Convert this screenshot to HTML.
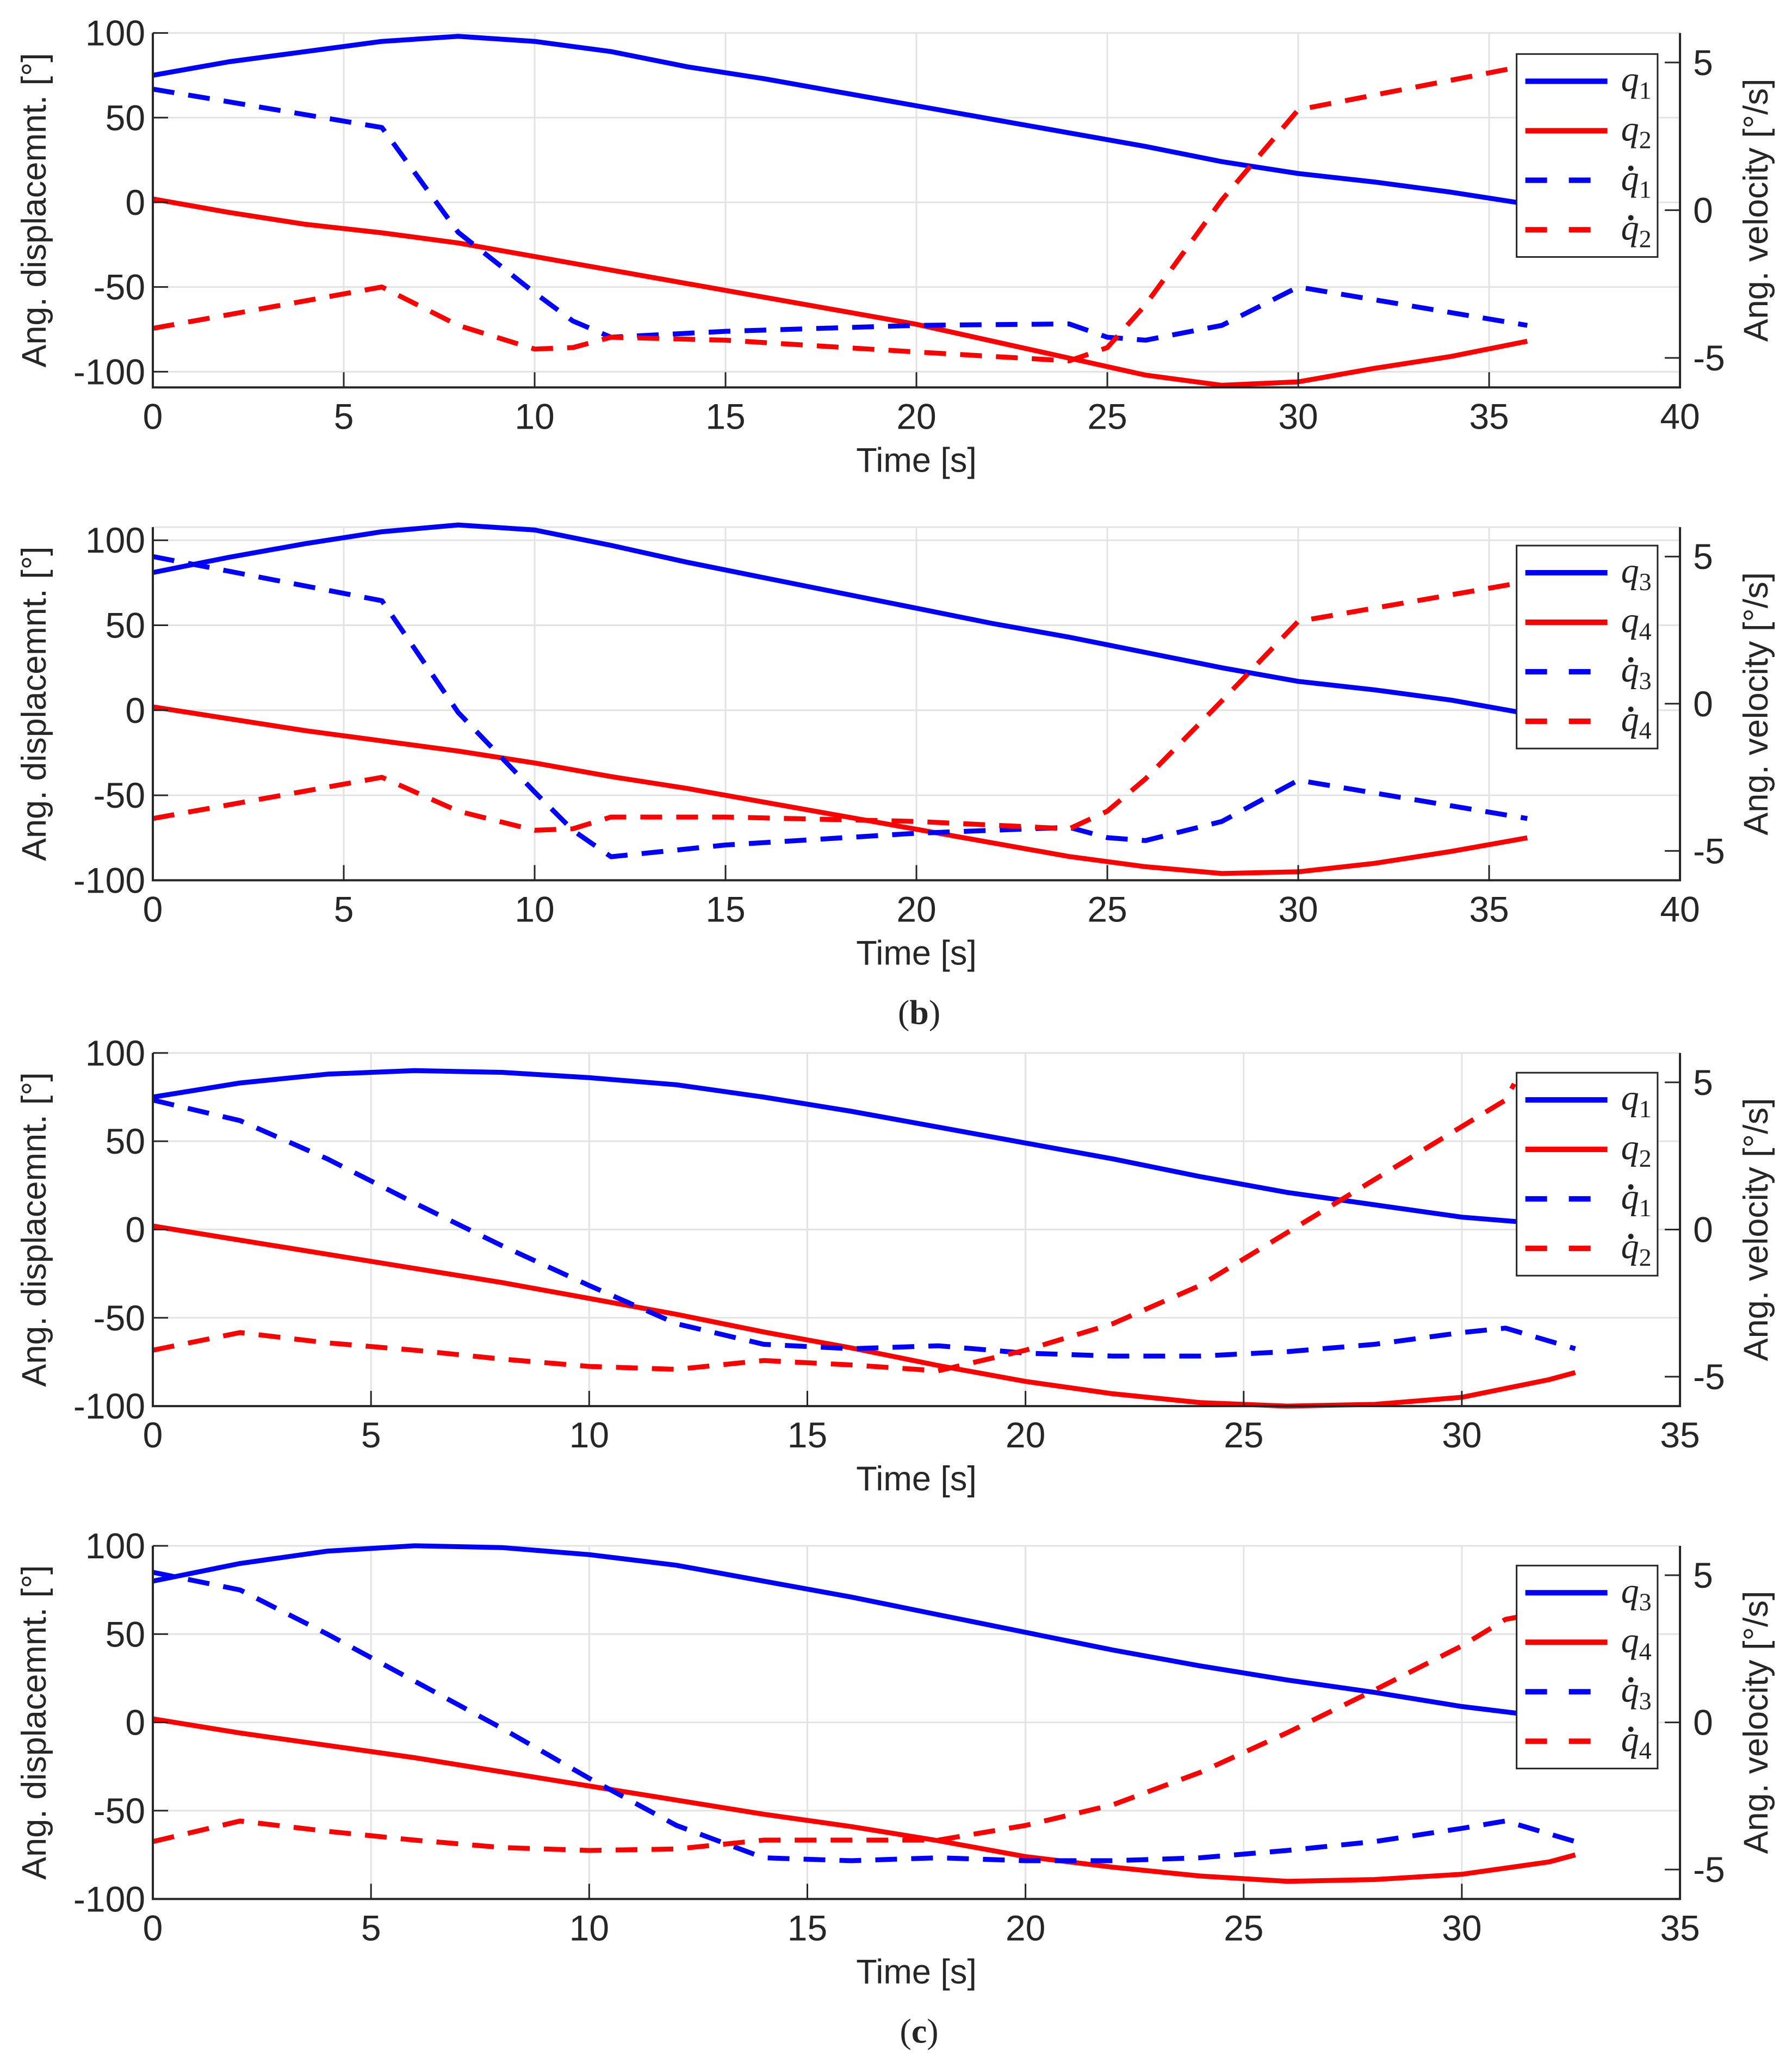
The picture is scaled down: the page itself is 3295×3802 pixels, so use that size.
<!DOCTYPE html>
<html><head><meta charset="utf-8"><style>
html,body{margin:0;padding:0;background:#fff;}
svg{display:block;}
text{font-family:"Liberation Sans",sans-serif;fill:#262626;}
.leg{font-family:"Liberation Serif",serif;font-style:italic;fill:#222;}
</style></head><body>
<svg id="chart" width="3295" height="3802" viewBox="0 0 3295 3802" xmlns="http://www.w3.org/2000/svg"></svg>
<script>
const K = 2.4228;
// ---- data ----
const tA = [0,2,4,6,8,10,12,14,16,18,20,22,24,26,28,30,32,34,36];
const q1A = [75,83,89,95,98,95,89,80,73,65,57,49,41,33,24,17,12,6,-1];
const q2A = [2,-6,-13,-18,-24,-32,-40,-48,-56,-64,-72,-82,-92,-102,-108,-106,-98,-91,-82];
const tdA = [0,6,8,10,11,12,15,20,24,25,26,28,30,36];
const qd1A = [4.1,2.8,-0.75,-2.8,-3.75,-4.3,-4.1,-3.9,-3.85,-4.3,-4.4,-3.9,-2.6,-3.9];
const qd2A = [-4.0,-2.6,-3.9,-4.7,-4.65,-4.3,-4.4,-4.8,-5.1,-4.65,-3.2,0.35,3.4,4.9];

const q3B = [81,90,98,105,109,106,97,87,78,69,60,51,43,34,25,17,12,6,-2];
const q4B = [2,-5,-12,-18,-24,-31,-39,-46,-54,-62,-70,-78,-86,-92,-96,-95,-90,-83,-75];
const qd3B = [5.0,3.5,-0.3,-3.0,-4.3,-5.2,-4.8,-4.4,-4.2,-4.55,-4.65,-4.0,-2.6,-3.9];
const qd4B = [-3.9,-2.5,-3.65,-4.3,-4.25,-3.85,-3.85,-4.0,-4.25,-3.65,-2.55,0.1,2.8,4.15];

const tC = [0,2,4,6,8,10,12,14,16,18,20,22,24,26,28,30,32,32.6];
const q1C = [75,83,88,90,89,86,82,75,67,58,49,40,30,21,14,7,3,2];
const q2C = [2,-6,-14,-22,-30,-39,-48,-58,-67,-77,-86,-93,-98,-100,-99,-95,-85,-81];
const tdC = [0,2,4,6,8,10,12,14,16,18,20,22,24,26,28,30,31,32.6];
const qd1C = [4.4,3.7,2.4,0.9,-0.55,-1.9,-3.2,-3.9,-4.05,-3.95,-4.2,-4.3,-4.3,-4.15,-3.9,-3.5,-3.35,-4.05];
const tdC2 = [0,2,4,6,8,10,12,14,16,18,20,22,24,26,28,30,31,31.2];
const qd2C = [-4.1,-3.5,-3.85,-4.1,-4.4,-4.65,-4.75,-4.45,-4.6,-4.8,-4.1,-3.2,-1.9,-0.1,1.7,3.5,4.4,4.95];

const q3D = [80,90,97,100,99,95,89,80,71,61,51,41,32,24,17,9,3,2];
const q4D = [2,-6,-13,-20,-28,-36,-44,-52,-59,-67,-76,-82,-87,-90,-89,-86,-79,-75];
const qd3D = [5.1,4.5,3.0,1.4,-0.2,-1.9,-3.5,-4.6,-4.7,-4.6,-4.7,-4.7,-4.6,-4.35,-4.05,-3.6,-3.35,-4.05];
const qd4D = [-4.05,-3.35,-3.7,-4.0,-4.25,-4.35,-4.3,-4.0,-4.0,-4.0,-3.5,-2.8,-1.7,-0.35,1.1,2.6,3.5,3.95];

const xTicks40 = [0,5,10,15,20,25,30,35,40];
const xTicks35 = [0,5,10,15,20,25,30,35];
const yTicksL = [-100,-50,0,50,100];
const yTicksR = [-5,0,5];

const panels = [
  {name:'a-top', top:25, bot:294, xmax:40, ymin:-109.3, ymax:100, xt:xTicks40, subs:['1','2','1','2'],
   s:[[tA,q1A,'L','#0000ff',0],[tA,q2A,'L','#ff0000',0],[tdA,qd1A,'R','#0000ff',1],[tdA,qd2A,'R','#ff0000',1]], leg:41, cap:null},
  {name:'b', top:400, bot:668, xmax:40, ymin:-100, ymax:107.7, xt:xTicks40, subs:['3','4','3','4'],
   s:[[tA,q3B,'L','#0000ff',0],[tA,q4B,'L','#ff0000',0],[tdA,qd3B,'R','#0000ff',1],[tdA,qd4B,'R','#ff0000',1]], leg:414, cap:'b', capY:768},
  {name:'c-top', top:799, bot:1067, xmax:35, ymin:-100, ymax:100, xt:xTicks35, subs:['1','2','1','2'],
   s:[[tC,q1C,'L','#0000ff',0],[tC,q2C,'L','#ff0000',0],[tdC,qd1C,'R','#0000ff',1],[tdC2,qd2C,'R','#ff0000',1]], leg:814, cap:null},
  {name:'c-bottom', top:1173, bot:1441, xmax:35, ymin:-100, ymax:100, xt:xTicks35, subs:['3','4','3','4'],
   s:[[tC,q3D,'L','#0000ff',0],[tC,q4D,'L','#ff0000',0],[tdC,qd3D,'R','#0000ff',1],[tdC,qd4D,'R','#ff0000',1]], leg:1188, cap:'c', capY:1541}
];
const NS='http://www.w3.org/2000/svg';
const svg=document.getElementById('chart');
function mk(tag,attrs,parent){const e=document.createElementNS(NS,tag);for(const k in attrs)e.setAttribute(k,attrs[k]);(parent||svg).appendChild(e);return e;}
const L=116*K, R=1275*K;
const FS=66;
panels.forEach((p,pi)=>{
  const g=mk('g',{});
  
  
  const T=p.top*K, B=p.bot*K;
  const xs=v=>L+(v/p.xmax)*(R-L);
  const ysL=v=>B-(v-p.ymin)/(p.ymax-p.ymin)*(B-T);
  const ysR=v=>B-(v+6)/12*(B-T);
  p.xt.forEach(t=>{const l=mk('line',{x1:xs(t),x2:xs(t),y1:T,y2:B,stroke:'#e3e3e3','stroke-width':3},g);
    });
  yTicksL.forEach(t=>{const l=mk('line',{x1:L,x2:R,y1:ysL(t),y2:ysL(t),stroke:'#e3e3e3','stroke-width':3},g);
    });
  mk('line',{x1:L,x2:R,y1:T,y2:T,stroke:'#e3e3e3','stroke-width':3},g);
  p.s.forEach((s,si)=>{
    const [tx,vy,ax,col,dash]=s;
    const f=ax==='L'?ysL:ysR;
    const d=tx.map((t,i)=>(i?'L':'M')+xs(t).toFixed(1)+' '+f(vy[i]).toFixed(1)).join(' ');
    const a={d:d,fill:'none',stroke:col,'stroke-width':9,'stroke-linejoin':'round'};
    if(dash)a['stroke-dasharray']='40 26';
    const pa=mk('path',a,g);
    
    
  });
  const ax=mk('path',{d:`M${L} ${T} L${L} ${B} L${R} ${B} L${R} ${T}`,fill:'none',stroke:'#262626','stroke-width':4},g);
  
  p.xt.forEach(t=>{
    mk('line',{x1:xs(t),x2:xs(t),y1:B,y2:B-28,stroke:'#262626','stroke-width':3},g);
    const tx=mk('text',{x:xs(t),y:B+76,'font-size':FS,'text-anchor':'middle'},g);tx.textContent=t;
    
  });
  yTicksL.forEach(t=>{
    mk('line',{x1:L,x2:L+28,y1:ysL(t),y2:ysL(t),stroke:'#262626','stroke-width':3},g);
    const tx=mk('text',{x:L-14,y:ysL(t)+23,'font-size':FS,'text-anchor':'end'},g);tx.textContent=t;
    
  });
  yTicksR.forEach(t=>{
    mk('line',{x1:R,x2:R-28,y1:ysR(t),y2:ysR(t),stroke:'#262626','stroke-width':3},g);
    const tx=mk('text',{x:R+24,y:ysR(t)+23,'font-size':FS,'text-anchor':'start'},g);tx.textContent=t;
    
  });
  const xl=mk('text',{x:(L+R)/2,y:B+155,'font-size':63,'text-anchor':'middle'},g);xl.textContent='Time [s]';
  
  const cy=(T+B)/2;
  const yl=mk('text',{x:0,y:0,'font-size':63,'text-anchor':'middle','xml:space':'preserve',transform:`translate(84 ${cy}) rotate(-90)`},g);yl.textContent='Ang.   displacemnt.   [°]';
  
  const yr=mk('text',{x:0,y:0,'font-size':63,'text-anchor':'middle','xml:space':'preserve',transform:`translate(3250 ${cy}) rotate(-90)`},g);yr.textContent='Ang.   velocity   [°/s]';
  
  const lx=1151*K, ly=p.leg*K, lw=107*K, lh=154*K;
  const lg=mk('g',{},g);
  
  mk('rect',{x:lx,y:ly,width:lw,height:lh,fill:'#fff',stroke:'#262626','stroke-width':3},lg);
  const cols=['#0000ff','#ff0000','#0000ff','#ff0000'];
  for(let i=0;i<4;i++){
    const yy=ly+50+i*91;
    const a={x1:lx+16,x2:lx+167,y1:yy,y2:yy,stroke:cols[i],'stroke-width':10};
    if(i>=2)a['stroke-dasharray']='40 40';
    const ln=mk('line',a,lg);
    
    const tx=mk('text',{x:lx+192,y:yy+18,'font-size':66,class:'leg'},lg);
    tx.textContent='q';
    const sb=mk('tspan',{'font-size':46,'font-style':'normal',dy:14},tx);sb.textContent=p.subs[i];
    
    if(i>=2){mk('circle',{cx:lx+210,cy:yy-22,r:5,fill:'#222'},lg);}
  }
  if(p.cap){
    const c=mk('text',{x:(L+R)/2+5,y:p.capY*K+22,'font-size':64,'text-anchor':'middle',style:'font-family:"Liberation Serif",serif'},g);
    c.textContent='(';
    const b=mk('tspan',{'font-weight':'bold'},c);b.textContent=p.cap;
    const e=mk('tspan',{},c);e.textContent=')';
    
  }
});
</script>
</body></html>
